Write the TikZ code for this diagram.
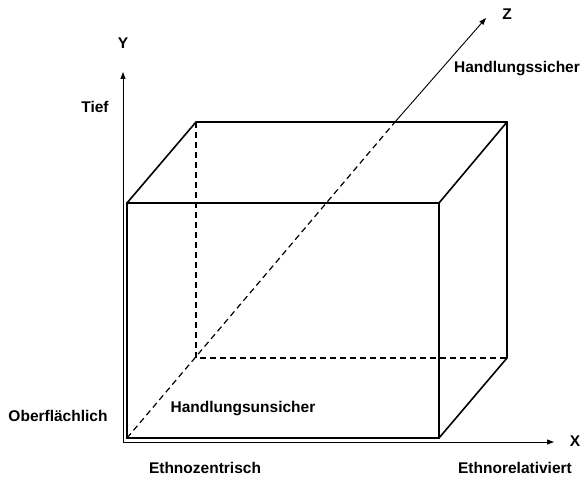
\documentclass[tikz,border=0pt]{standalone}
\usepackage{fontspec}
\setmainfont{Liberation Sans}
\usetikzlibrary{arrows.meta}
\begin{document}
\begin{tikzpicture}[x=1pt,y=-1pt,
  lbl/.style={font=\fontsize{15.5}{18}\selectfont\bfseries, inner sep=0pt},
  axis/.style={line width=0.9pt, -{Triangle[length=7pt,width=5pt]}},
  edge/.style={line width=1.6pt, line join=miter},
  hidden/.style={line width=1.6pt, dash pattern=on 6pt off 4pt},
  diag/.style={line width=1.2pt, dash pattern=on 6pt off 4pt}]
\useasboundingbox (0,0) rectangle (582,478);
% axes
\coordinate (O) at (123,442);
\coordinate (Ytip) at (123,72);
\coordinate (Xtip) at (554,442);
% box corners
\coordinate (FBL) at (127,438);
\coordinate (FBR) at (439,438);
\coordinate (FTL) at (127,203);
\coordinate (FTR) at (439,203);
\coordinate (BBL) at (196,358);
\coordinate (BBR) at (507,358);
\coordinate (BTL) at (196,122);
\coordinate (BTR) at (507,122);
\coordinate (Zexit) at (395,122);
\coordinate (Ztip) at (486,18);
% axes
\draw[axis] (O) -- (Ytip);
\draw[axis] (O) -- (Xtip);
% box
\draw[edge] (FBL) rectangle (FTR);
\draw[edge] (FTL) -- (BTL) -- (BTR) -- (BBR) -- (FBR);
\draw[edge] (FTR) -- (BTR);
\draw[hidden] (BTL) -- (BBL) -- (BBR);
% z axis
\draw[diag] (FBL) -- (Zexit);
\draw[axis] (Zexit) -- (Ztip);
% labels
\node[lbl] (ly) at (123,43) {Y};
\node[lbl] (lz) at (507,14) {Z};
\node[lbl] (lx) at (575,441) {X};
\node[lbl] (tief) at (95,107) {Tief};
\node[lbl] (ober) at (58,416) {Oberflächlich};
\node[lbl] (hs) at (517,69) {Handlungssicher};
\node[lbl] (hu) at (243,409) {Handlungsunsicher};
\node[lbl] (ez) at (205,468) {Ethnozentrisch};
\node[lbl] (er) at (515,468) {Ethnorelativiert};
\end{tikzpicture}
\end{document}
